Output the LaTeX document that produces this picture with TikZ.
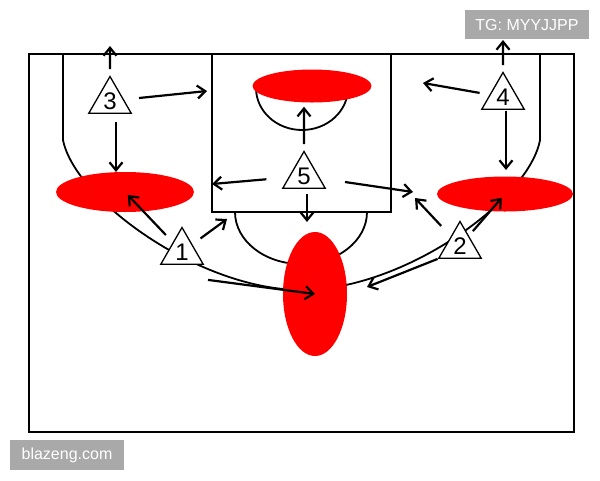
\documentclass[tikz,border=0pt]{standalone}
\usepackage{fontspec}
\setmainfont{Liberation Sans}
\usepackage{xcolor}
\usepackage{tikz}
\usetikzlibrary{arrows.meta, shapes.geometric}
\definecolor{tagbg}{HTML}{A9A9A9}
\begin{document}
\begin{tikzpicture}[x=1pt, y=-1pt,
  court/.style={line width=1.8pt},
  move/.style={line width=2.2pt, -{Straight Barb[length=8pt, width=13pt]}},
  player/.style={draw, fill=white, line width=1.3pt, regular polygon, regular polygon sides=3, minimum size=49pt, inner sep=0pt, font=\fontsize{24}{24}\selectfont},
  spot/.style={ellipse, fill=red, inner sep=0pt},
  tag/.style={fill=tagbg, text=white, inner sep=0pt, font=\fontsize{16}{16}\selectfont}]
\fill[white] (0,0) rectangle (600,480);
\useasboundingbox (0,0) rectangle (600,480);
\draw[court] (29,54) rectangle (574,432);
\draw[court] (212,54) rectangle (391,212);
\draw[court] (63,54) -- (63,140) .. controls (75,200) and (200,290) .. (302,290) .. controls (404,290) and (529,200) .. (540,140) -- (540,54);
\draw[court] (235,212) arc[start angle=180, end angle=0, x radius=66, y radius=52];
\draw[court] (256,88) arc[start angle=180, end angle=0, x radius=46, y radius=42];
\node[spot, minimum width=119pt, minimum height=33pt] (spotT) at (312,86) {};
\node[spot, minimum width=138pt, minimum height=40pt] (spotL) at (125,192) {};
\node[spot, minimum width=136pt, minimum height=35pt] (spotR) at (505,194) {};
\node[spot, minimum width=64pt, minimum height=124pt] (spotB) at (315,294) {};
\node[player] (p1) at (182,252) {1};
\node[player] (p2) at (460,246) {2};
\node[player] (p3) at (110,101) {3};
\node[player] (p4) at (503,97) {4};
\node[player] (p5) at (304,176) {5};
\coordinate (t3up) at (110,46);
\coordinate (t3lane) at (207,91);
\coordinate (t3down) at (116,172);
\coordinate (t4up) at (503,40);
\coordinate (t4lane) at (423,83);
\coordinate (t4down) at (506,170);
\coordinate (t5left) at (212,184);
\coordinate (t5right) at (413,192);
\coordinate (t5down) at (307,222);
\coordinate (t1lane) at (227,219);
\coordinate (t2lane) at (415,198);
\coordinate (t2cut) at (367,287);
\draw[move, shorten <=6pt] (p3) -- (t3up);
\draw[move, shorten <=15pt] (p3) -- (t3lane);
\draw[move, shorten <=8pt] (p3.south -| t3down) -- (t3down);
\draw[move, shorten <=6pt] (p4) -- (t4up);
\draw[move, shorten <=10pt] (p4) -- (t4lane);
\draw[move, shorten <=1pt] (p4.south -| t4down) -- (t4down);
\draw[move, shorten <=6pt, shorten >=4pt] (p5) -- (p5 |- spotT.south);
\draw[move, shorten <=22pt] (p5) -- (t5left);
\draw[move, shorten <=25pt] (p5) -- (t5right);
\draw[move, shorten <=5pt] (p5.south -| t5down) -- (t5down);
\draw[move, shorten <=10pt] (p1) -- (t1lane);
\draw[move, shorten <=10pt, shorten >=4pt] (p1) -- (spotL.center);
\draw[move] ([shift={(26,15)}]p1.south) -- (spotB.center);
\draw[move, shorten <=14pt] (p2) -- (t2lane);
\draw[move, shorten <=6pt, shorten >=5pt] (p2) -- (spotR.center);
\draw[move] (p2.corner 2) -- (t2cut);
\node[tag, minimum width=114pt, minimum height=30pt] (site) at (67,455) {blazeng.com};
\node[tag, minimum width=124pt, minimum height=29pt] (tg) at (527,24.5) {TG: MYYJJPP};
\end{tikzpicture}
\end{document}
